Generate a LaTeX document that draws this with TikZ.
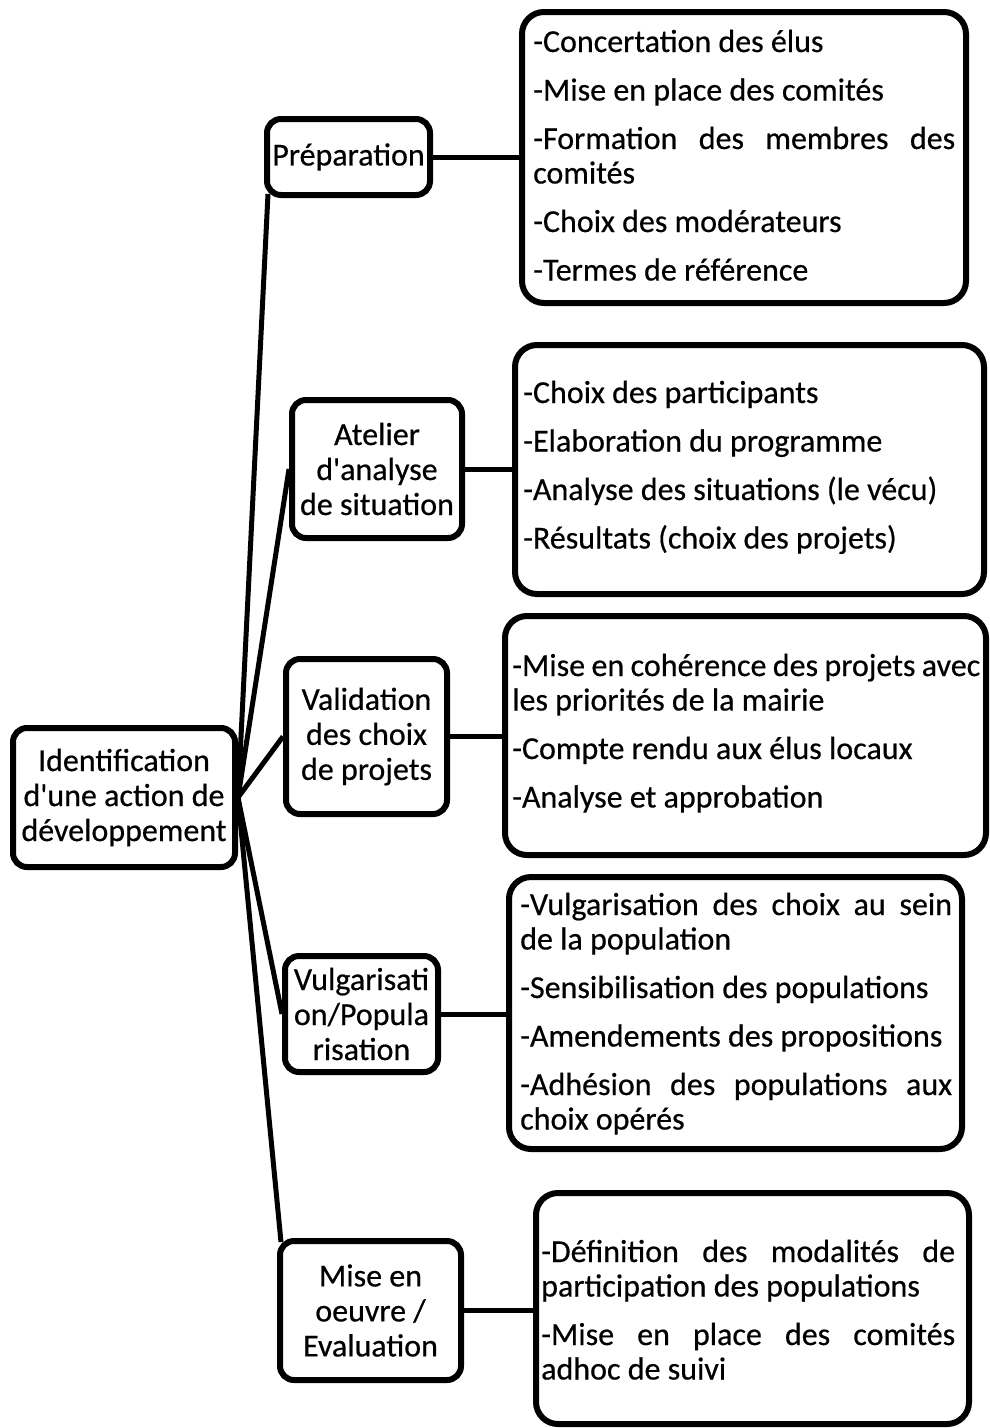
\documentclass[tikz,border=0pt]{standalone}
\usepackage{fontspec}
\setmainfont{Carlito}[FakeBold=0.5]
\begin{document}
\begin{tikzpicture}[x=1pt,y=-1pt,
  lbox/.style={draw, line width=6pt, rounded corners=14pt, inner sep=0pt, align=center, font=\fontsize{32}{35}\selectfont},
  rbox/.style={draw, line width=6pt, rounded corners=22pt, inner sep=0pt},
  rtext/.style={anchor=base west, inner sep=0pt, align=justify, font=\fontsize{32}{34.5}\selectfont, execute at begin node={\setlength{\parskip}{14pt}\hyphenpenalty=10000 }},
  conn/.style={line width=5pt},
]
\useasboundingbox (0,0) rectangle (989,1428);

% left nodes
\node[lbox, minimum width=163pt, minimum height=76pt] (prep) at (348.5,157) {Préparation};
\node[lbox, minimum width=170pt, minimum height=138pt] (atel) at (377,469) {Atelier\\d\textquotesingle analyse\\de situation};
\node[lbox, minimum width=161pt, minimum height=155pt] (valid) at (366.5,736.5) {Validation\\des choix\\de projets};
\node[lbox, minimum width=222pt, minimum height=139pt] (ident) at (124,797.5) {Identification\\d\textquotesingle une action de\\développement};
\node[lbox, minimum width=153pt, minimum height=116pt] (vulg) at (361.5,1014) {Vulgarisati\\on/Popula\\risation};
\node[lbox, minimum width=181pt, minimum height=139pt] (mise) at (370.5,1310.5) {Mise en\\oeuvre /\\Evaluation};

% right boxes
\node[rbox, minimum width=444pt, minimum height=291pt] (b1) at (744,157.5) {};
\node[rbox, minimum width=469pt, minimum height=249pt] (b2) at (749.5,469.5) {};
\node[rbox, minimum width=481pt, minimum height=239pt] (b3) at (745.5,735.5) {};
\node[rbox, minimum width=453pt, minimum height=272pt] (b4) at (735.5,1013) {};
\node[rbox, minimum width=433pt, minimum height=231pt] (b5) at (752.5,1308.5) {};

% texts
\node[rtext, text width=422pt] (t1) at (533,52) {-Concertation des élus\par
-Mise en place des comités\par
-Formation des membres des\linebreak comités\par
-Choix des modérateurs\par
-Termes de référence};
\node[rtext, text width=455pt] (t2) at (523,403) {-Choix des participants\par
-Elaboration du programme\par
-Analyse des situations (le vécu)\par
-Résultats (choix des projets)};
\node[rtext, text width=468pt] (t3) at (512,676) {-Mise en cohérence des projets avec\linebreak les priorités de la mairie\par
-Compte rendu aux élus locaux\par
-Analyse et approbation};
\node[rtext, text width=432pt] (t4) at (520,915) {-Vulgarisation des choix au sein\linebreak de la population\par
-Sensibilisation des populations\par
-Amendements des propositions\par
-Adhésion des populations aux\linebreak choix opérés};
\node[rtext, text width=414pt] (t5) at (541,1262) {-Définition des modalités de\linebreak participation des populations\par
-Mise en place des comités\linebreak adhoc de suivi};

% connectors
\draw[conn] (ident.east) -- ([xshift=4pt,yshift=4pt]prep.south west);
\draw[conn] (ident.east) -- (atel.west);
\draw[conn] (ident.east) -- (valid.west);
\draw[conn] (ident.east) -- (vulg.west);
\draw[conn] (ident.east) -- ([xshift=4pt,yshift=-4pt]mise.north west);
\draw[conn] (prep.east) -- (prep.east -| b1.west);
\draw[conn] (atel.east) -- (atel.east -| b2.west);
\draw[conn] (valid.east) -- (valid.east -| b3.west);
\draw[conn] (vulg.east) -- (vulg.east -| b4.west);
\draw[conn] (mise.east) -- (mise.east -| b5.west);
\end{tikzpicture}
\end{document}
